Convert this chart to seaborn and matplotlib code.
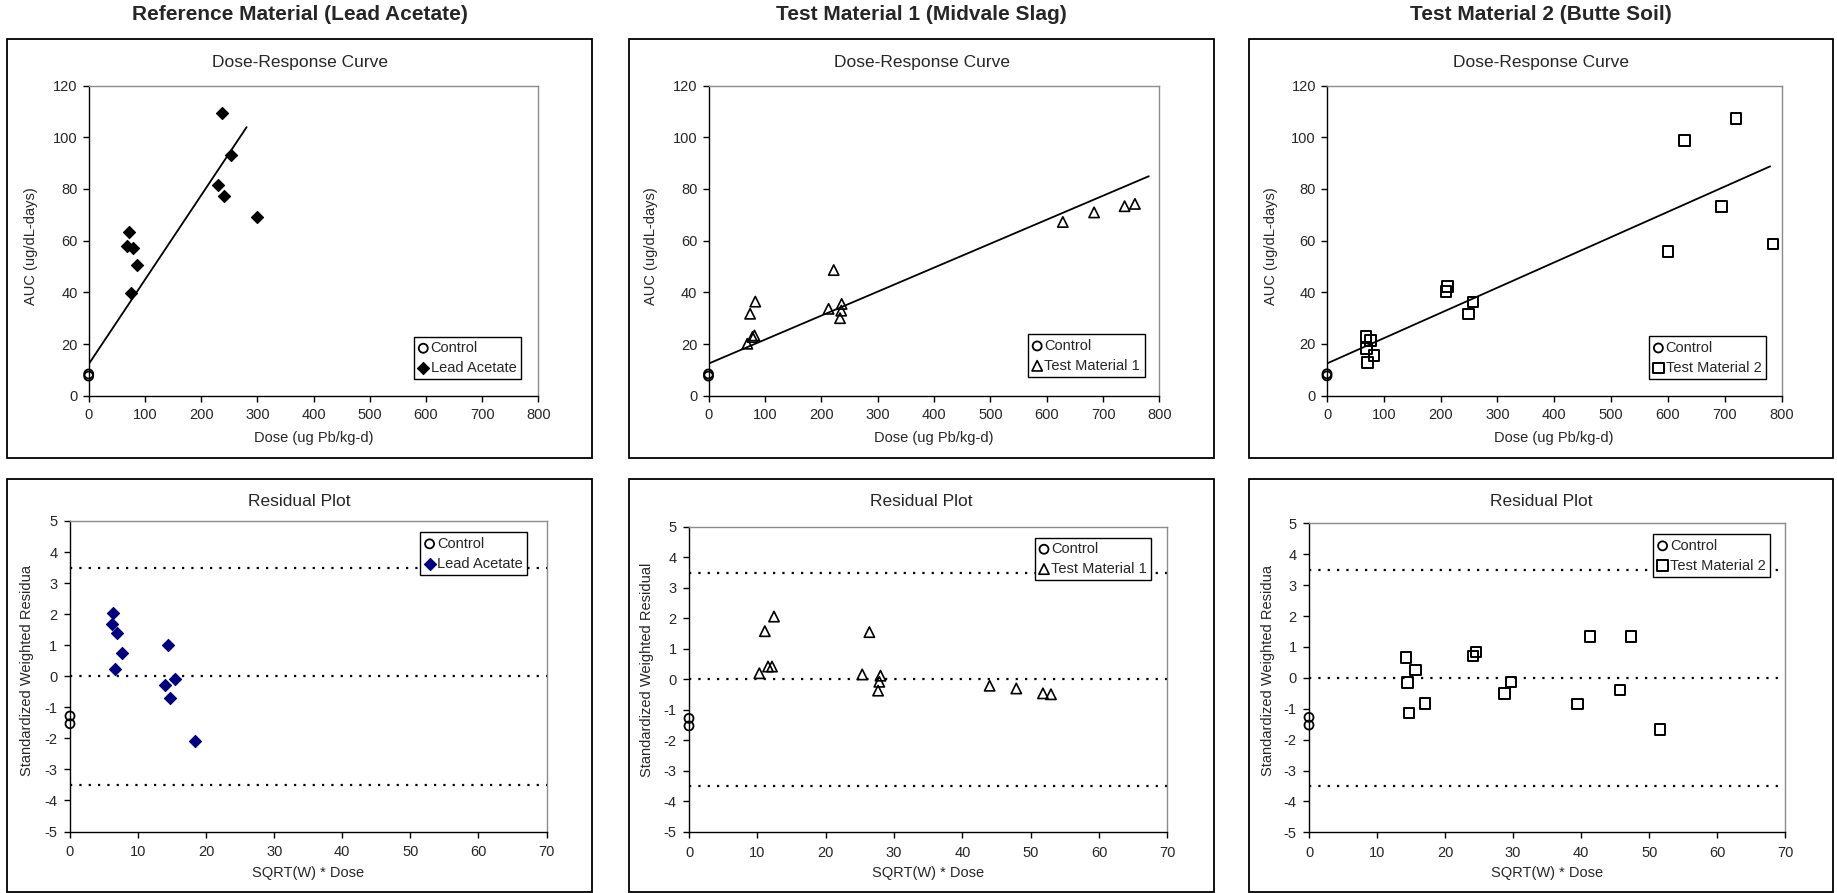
import matplotlib
matplotlib.use("Agg")
import matplotlib.pyplot as plt
from matplotlib.patches import Rectangle
import seaborn as sns

# ---------------- data ----------------
panel_titles = ["Reference Material (Lead Acetate)",
                "Test Material 1 (Midvale Slag)",
                "Test Material 2 (Butte Soil)"]
material_labels = ["Lead Acetate", "Test Material 1", "Test Material 2"]

# Dose-response (top row)
ctrl_dose = [0, 0]
ctrl_auc = [7.6, 8.4]

la_dose = [236.5, 253.3, 229.4, 240.7, 299.8, 71.1, 68.3, 79.5, 86.6, 76.0]
la_auc = [109.3, 93.0, 81.7, 77.3, 69.1, 63.3, 57.8, 57.2, 50.4, 39.8]
la_fit_dose = [0, 281]
la_fit_auc = [12.2, 103.9]

tm1_dose = [68.9, 78.0, 81.5, 73.8, 83.0, 213.0, 222.1, 236.2, 235.5, 233.3,
            628.5, 684.0, 738.1, 756.4]
tm1_auc = [20.1, 22.7, 23.3, 31.7, 36.4, 33.6, 48.6, 35.5, 32.9, 30.0,
           67.2, 70.9, 73.3, 74.2]
tm1_fit_dose = [0, 781]
tm1_fit_auc = [12.4, 84.9]

tm2_dose = [68.6, 76.7, 70.0, 71.3, 82.9, 209.8, 212.6, 249.2, 256.7,
            600.3, 628.9, 694.7, 719.9, 785.1]
tm2_auc = [22.9, 21.4, 18.1, 12.7, 15.5, 40.3, 42.2, 31.5, 36.2,
           55.8, 98.6, 73.2, 107.3, 58.6]
tm2_fit_dose = [0, 780]
tm2_fit_auc = [12.4, 88.7]

# Residual plots (bottom row)
ctrl_sqrtw_dose = [0, 0]
ctrl_resid = [-1.28, -1.53]

la_sqrtw_dose = [6.25, 6.13, 6.95, 7.65, 6.65, 14.42, 14.01, 15.47, 14.71, 18.33]
la_resid = [2.03, 1.69, 1.40, 0.74, 0.23, 1.00, -0.29, -0.10, -0.69, -2.10]

tm1_sqrtw_dose = [10.29, 11.1, 11.57, 12.15, 12.44, 25.35, 26.4, 28.02, 27.85,
                  27.67, 44.0, 47.9, 51.8, 52.97]
tm1_resid = [0.20, 1.58, 0.42, 0.42, 2.06, 0.16, 1.55, 0.12, -0.08, -0.37,
             -0.21, -0.30, -0.46, -0.49]

tm2_sqrtw_dose = [14.23, 14.51, 14.68, 15.65, 17.02, 24.13, 24.53, 28.69, 29.71,
                  39.44, 41.32, 45.70, 47.3, 51.57]
tm2_resid = [0.66, -0.16, -1.14, 0.25, -0.83, 0.70, 0.84, -0.51, -0.13,
             -0.85, 1.33, -0.40, 1.33, -1.68]

ref_levels = [-3.5, 0, 3.5]
resid_ylabels = ["Standardized Weighted Residua",
                 "Standardized Weighted Residual",
                 "Standardized Weighted Residua"]

# ---------------- styling ----------------
sns.set_style("ticks")
plt.rcParams["font.family"] = ["Liberation Sans", "DejaVu Sans"]
plt.rcParams["axes.unicode_minus"] = False

W, H = 1837, 893
fig = plt.figure(figsize=(W / 100, H / 100), dpi=100)
fig.patch.set_facecolor("white")


def fx(px):
    return px / W


def fy(py):
    return 1 - py / H


def add_ax(x0, y0, x1, y1):
    return fig.add_axes([fx(x0), fy(y1), (x1 - x0) / W, (y1 - y0) / H])


# panel boxes (pixels)
box_x = [(7.3, 591.7), (629, 1214), (1249, 1833)]
top_box_y = (39, 458.3)
bot_box_y = (479, 891.7)

top_axes_px = [(88.7, 85.5, 538.3, 395.7), (708.5, 85.5, 1159.5, 395.7),
               (1327, 85.5, 1781.5, 395.5)]
bot_axes_px = [(70, 521, 546.5, 831.5), (689, 527, 1167.3, 831.7),
               (1309, 523.3, 1785.3, 832.3)]

top_ylabel_x = [31, 651, 1271]
bot_ylabel_x = [26.6, 646.6, 1267.7]
top_leg = [(520.7, 379.3), (1144.6, 377), (1765.8, 379)]
bot_leg = [(527, 532.3), (1151.4, 537.7), (1770, 534.3)]

for k, (bx0, bx1) in enumerate(box_x):
    for (by0, by1) in (top_box_y, bot_box_y):
        fig.add_artist(Rectangle((fx(bx0), fy(by1)), (bx1 - bx0) / W, (by1 - by0) / H,
                                 transform=fig.transFigure, fill=False,
                                 edgecolor="black", linewidth=1.3))
    cx = (bx0 + bx1) / 2
    fig.text(fx(cx), fy(15), panel_titles[k],
             ha="center", va="center", fontsize=15, fontweight="bold")
    fig.text(fx(cx), fy(62), "Dose-Response Curve", ha="center", va="center", fontsize=12.5)
    fig.text(fx(cx), fy(502), "Residual Plot", ha="center", va="center", fontsize=12.5)


def style_axes(ax):
    for side in ("left", "bottom"):
        ax.spines[side].set_color("black")
        ax.spines[side].set_linewidth(1.0)
    for side in ("top", "right"):
        ax.spines[side].set_visible(True)
        ax.spines[side].set_color("#8c8c8c")
        ax.spines[side].set_linewidth(1.0)
    ax.tick_params(axis="both", direction="out", length=4, width=1, color="black",
                   labelsize=10.5, top=False, right=False)
    ax.tick_params(axis="y", pad=4)
    ax.tick_params(axis="x", pad=5)
    ax.set_facecolor("white")
    ax.grid(False)


materials_top = [(la_dose, la_auc, la_fit_dose, la_fit_auc),
                 (tm1_dose, tm1_auc, tm1_fit_dose, tm1_fit_auc),
                 (tm2_dose, tm2_auc, tm2_fit_dose, tm2_fit_auc)]
materials_bot = [(la_sqrtw_dose, la_resid), (tm1_sqrtw_dose, tm1_resid),
                 (tm2_sqrtw_dose, tm2_resid)]

marker_specs = [
    # top style, bottom style
    (dict(marker="D", s=38, facecolor="black", edgecolor="black", linewidth=0.8),
     dict(marker="D", s=38, facecolor="#00007f", edgecolor="#00007f", linewidth=0.8)),
    (dict(marker="^", s=55, facecolor="none", edgecolor="black", linewidth=1.2),
     dict(marker="^", s=55, facecolor="none", edgecolor="black", linewidth=1.2)),
    (dict(marker="s", s=58, facecolor="none", edgecolor="black", linewidth=1.4),
     dict(marker="s", s=58, facecolor="none", edgecolor="black", linewidth=1.4)),
]
ctrl_spec = dict(marker="o", s=42, facecolor="none", edgecolor="black", linewidth=1.3)


def make_legend(ax, loc, anchor_px):
    leg = ax.legend(loc=loc, bbox_to_anchor=(fx(anchor_px[0]), fy(anchor_px[1])),
                    bbox_transform=fig.transFigure, borderaxespad=0,
                    fontsize=10.5, frameon=True, fancybox=False, framealpha=1,
                    edgecolor="black", borderpad=0.3, handlelength=0.7,
                    handletextpad=0.15, labelspacing=0.4, scatterpoints=1)
    leg.get_frame().set_linewidth(1.0)
    leg.set_zorder(10)
    return leg


for i in range(3):
    # ---- dose-response ----
    ax = add_ax(*top_axes_px[i])
    style_axes(ax)
    dose, auc, fdose, fauc = materials_top[i]
    sns.scatterplot(x=ctrl_dose, y=ctrl_auc, ax=ax, label="Control", clip_on=False,
                    zorder=5, **ctrl_spec)
    sns.scatterplot(x=dose, y=auc, ax=ax, label=material_labels[i], clip_on=False,
                    zorder=5, **marker_specs[i][0])
    sns.lineplot(x=fdose, y=fauc, ax=ax, color="black", linewidth=1.3,
                 legend=False, zorder=4)
    ax.set_xlim(0, 800)
    ax.set_ylim(0, 120)
    ax.set_xticks(range(0, 801, 100))
    ax.set_yticks(range(0, 121, 20))
    ax.set_xlabel("Dose (ug Pb/kg-d)", fontsize=10.5)
    ax.set_ylabel("AUC (ug/dL-days)", fontsize=10.5)
    ax.xaxis.set_label_coords(fx((top_axes_px[i][0] + top_axes_px[i][2]) / 2), fy(438),
                              transform=fig.transFigure)
    ax.xaxis.label.set_va("center")
    ax.yaxis.set_label_coords(fx(top_ylabel_x[i]), fy(246), transform=fig.transFigure)
    ax.yaxis.label.set_va("center")
    make_legend(ax, "lower right", top_leg[i])

    # ---- residual ----
    axr = add_ax(*bot_axes_px[i])
    style_axes(axr)
    for lvl in ref_levels:
        axr.axhline(lvl, color="black", linewidth=1.6, linestyle=(0, (1, 3.2)), zorder=2)
    sx, rr = materials_bot[i]
    sns.scatterplot(x=ctrl_sqrtw_dose, y=ctrl_resid, ax=axr, label="Control",
                    clip_on=False, zorder=5, **ctrl_spec)
    sns.scatterplot(x=sx, y=rr, ax=axr, label=material_labels[i], clip_on=False,
                    zorder=5, **marker_specs[i][1])
    axr.set_xlim(0, 70)
    axr.set_ylim(-5, 5)
    axr.set_xticks(range(0, 71, 10))
    axr.set_yticks(range(-5, 6, 1))
    axr.tick_params(axis="x", pad=6)
    axr.tick_params(axis="y", pad=5)
    axr.set_xlabel("SQRT(W) * Dose", fontsize=10.5)
    axr.set_ylabel(resid_ylabels[i], fontsize=10.5)
    axr.xaxis.set_label_coords(fx((bot_axes_px[i][0] + bot_axes_px[i][2]) / 2), fy(873),
                               transform=fig.transFigure)
    axr.xaxis.label.set_va("center")
    axr.yaxis.set_label_coords(fx(bot_ylabel_x[i]), fy(670), transform=fig.transFigure)
    axr.yaxis.label.set_va("center")
    make_legend(axr, "upper right", bot_leg[i])

fig.savefig("out.png", dpi=100, facecolor="white")
